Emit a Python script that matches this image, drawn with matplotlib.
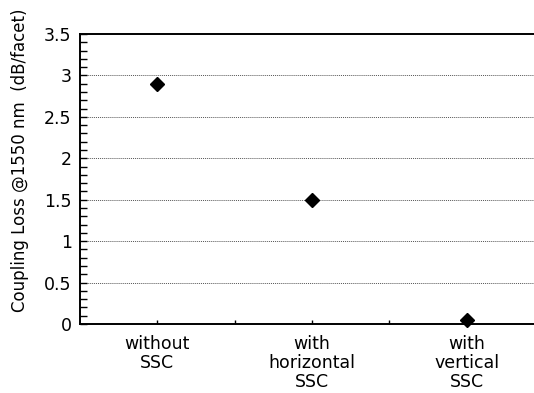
import matplotlib

matplotlib.use("Agg")

import matplotlib.pyplot as plt
from matplotlib.ticker import MultipleLocator

# data
categories = ["without\nSSC", "with\nhorizontal\nSSC", "with\nvertical\nSSC"]
coupling_loss = [2.9, 1.5, 0.05]
y_ticks = [0, 0.5, 1, 1.5, 2, 2.5, 3, 3.5]
y_tick_labels = ["0", "0.5", "1", "1.5", "2", "2.5", "3", "3.5"]

plt.rcParams["font.family"] = ["DejaVu Sans"]

fig = plt.figure(figsize=(5.34, 3.93), dpi=100)
# axes deliberately runs past the right edge, as in the reference
ax = fig.add_axes([80 / 534, 1 - 324 / 393, 464 / 534, 290 / 393])

xpos = list(range(len(categories)))
ax.plot(xpos, coupling_loss, linestyle="none", marker="D", markersize=7.5,
        color="black", zorder=5, clip_on=False)

ax.set_xlim(-0.5, len(categories) - 0.5)
ax.set_ylim(0, 3.5)

ax.set_xticks(xpos)
ax.set_xticklabels(categories, fontsize=12.5, linespacing=1.05)
ax.set_xticks([0.5, 1.5], minor=True)
ax.tick_params(axis="x", which="both", direction="in", length=3,
               width=1, pad=8)

ax.yaxis.set_minor_locator(MultipleLocator(0.1))
ax.set_yticks(y_ticks)
ax.set_yticklabels(y_tick_labels, fontsize=12.5)
ax.tick_params(axis="y", which="both", direction="in", length=5, width=1, pad=6)

for y in y_ticks[1:-1]:
    ax.axhline(y, color="#555555", linestyle=(0, (1, 1)), linewidth=0.7, zorder=1)

ax.set_ylabel("Coupling Loss @1550 nm  (dB/facet)", fontsize=12)
ax.yaxis.set_label_coords(-0.110, 0.566)

ax.spines["right"].set_visible(False)
for s in ["left", "bottom", "top"]:
    ax.spines[s].set_linewidth(1.4)

fig.savefig("out.png", dpi=100)
